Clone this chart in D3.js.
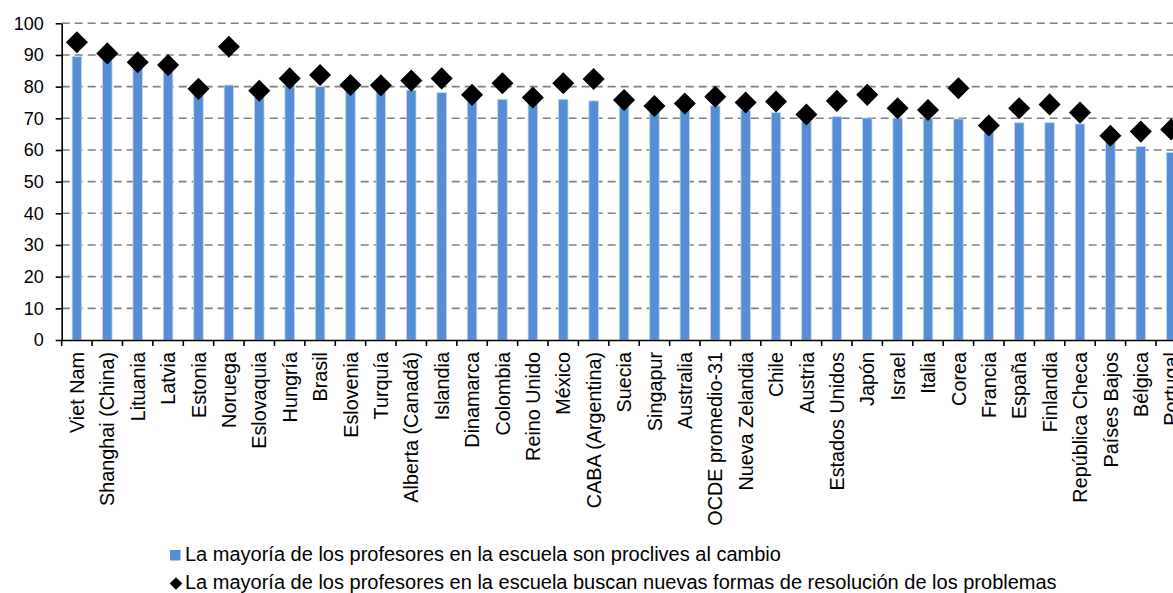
<!DOCTYPE html>
<html><head><meta charset="utf-8">
<script src="https://cdn.jsdelivr.net/npm/d3@7"></script>
<style>
html,body{margin:0;padding:0;background:#fff;overflow:hidden;}
svg{display:block;font-family:"Liberation Sans",Arial,sans-serif;}
</style></head>
<body>
<svg id="c" width="1173" height="593"></svg>
<script>
const categories = ["Viet Nam","Shanghai (China)","Lituania","Latvia","Estonia","Noruega","Eslovaquia","Hungría","Brasil","Eslovenia","Turquía","Alberta (Canadá)","Islandia","Dinamarca","Colombia","Reino Unido","México","CABA (Argentina)","Suecia","Singapur","Australia","OCDE promedio-31","Nueva Zelandia","Chile","Austria","Estados Unidos","Japón","Israel","Italia","Corea","Francia","España","Finlandia","República Checa","Países Bajos","Bélgica","Portugal"];
const proclivesCambio = [89.5,88.5,86,85,79,80.5,77.5,80.8,80.0,79,78.5,78.9,78.1,76,76.0,75.5,76.0,75.5,74,72.5,73,73.9,72.5,71.8,69,70.5,70.1,70,70,69.8,66,68.6,68.6,68.2,63,61.1,59.2];
const nuevasFormas = [94.0,90.5,87.7,86.8,79.3,92.6,78.7,82.6,83.7,80.5,80.4,81.9,82.6,77.4,81.1,76.6,81.1,82.4,75.8,73.9,74.7,76.8,75.0,75.3,71.2,75.5,77.4,73.2,72.6,79.5,67.7,73.2,74.4,71.8,64.5,65.8,66.5];
const yTicks = [0,10,20,30,40,50,60,70,80,90,100];
const legendLabels = ["La mayoría de los profesores en la escuela son proclives al cambio","La mayoría de los profesores en la escuela buscan nuevas formas de resolución de los problemas"];

const svg = d3.select("#c");
const x0 = 61.7, step = 30.397;
const x = d3.scaleBand().domain(categories).range([x0, x0 + step*categories.length]).padding(0);
const y = d3.scaleLinear().domain([0,100]).range([340, 23.3]);

// gridlines
svg.append("g").selectAll("line").data(yTicks.filter(d=>d>0)).join("line")
  .attr("x1", x0).attr("x2", 1200)
  .attr("y1", d=>y(d)).attr("y2", d=>y(d))
  .attr("stroke","#7f7f7f").attr("stroke-width",1.6).attr("stroke-dasharray","8,5");

// bars
const bw = 9.5;
svg.append("g").selectAll("rect").data(categories).join("rect")
  .attr("x", (d)=>x(d)+x.bandwidth()/2-bw/2)
  .attr("width", bw)
  .attr("y", (d,i)=>y(proclivesCambio[i]))
  .attr("height", (d,i)=>y(0)-y(proclivesCambio[i]))
  .attr("fill","#558ed5").attr("stroke","#c3d6ef").attr("stroke-width",0.8);

// diamonds
const sym = d3.symbol().type(d3.symbolSquare).size(15.6*15.6);
svg.append("g").selectAll("path").data(categories).join("path")
  .attr("d", sym)
  .attr("transform",(d,i)=>`translate(${x(d)+x.bandwidth()/2},${y(nuevasFormas[i])}) rotate(45)`)
  .attr("fill","#000");

// y axis
const yAxis = d3.axisLeft(y).tickValues(yTicks).tickSize(6).tickPadding(12).tickSizeOuter(0);
const ya = svg.append("g").attr("transform",`translate(${x0},0)`).call(yAxis);
ya.select(".domain").attr("stroke","#000").attr("stroke-width",1.6);
ya.selectAll(".tick line").attr("stroke","#000").attr("stroke-width",1.6);
ya.selectAll(".tick text").attr("font-size","18px").attr("fill","#000").attr("font-family","Liberation Sans, Arial, sans-serif");

// x axis
const xAxis = d3.axisBottom(x).tickSize(0).tickFormat("").tickSizeOuter(0);
const xa = svg.append("g").attr("transform",`translate(0,${y(0)})`).call(xAxis);
xa.select(".domain").attr("stroke","#000").attr("stroke-width",1.6);
// boundary ticks
const bounds = d3.range(categories.length+1).map(i=>x0+i*step);
svg.append("g").selectAll("line").data(bounds).join("line")
  .attr("x1",d=>d).attr("x2",d=>d).attr("y1",y(0)).attr("y2",y(0)+6)
  .attr("stroke","#000").attr("stroke-width",1.6);
// labels
svg.append("g").selectAll("text").data(categories).join("text")
  .attr("transform", d=>`translate(${x(d)+x.bandwidth()/2},352) rotate(-90)`)
  .attr("text-anchor","end").attr("dy","0.36em")
  .attr("font-size","19.8px").attr("fill","#000")
  .text(d=>d);

// legend
const lg = svg.append("g");
lg.append("rect").attr("x",170).attr("y",550).attr("width",10.5).attr("height",10.5).attr("fill","#558ed5");
lg.append("text").attr("x",185).attr("y",561).attr("font-size","20px").attr("fill","#000").text(legendLabels[0]);
lg.append("path").attr("d", d3.symbol().type(d3.symbolSquare).size(80))
  .attr("transform","translate(176,583.5) rotate(45)").attr("fill","#000");
lg.append("text").attr("x",185).attr("y",589).attr("font-size","20px").attr("fill","#000").text(legendLabels[1]);
</script>
</body></html>
